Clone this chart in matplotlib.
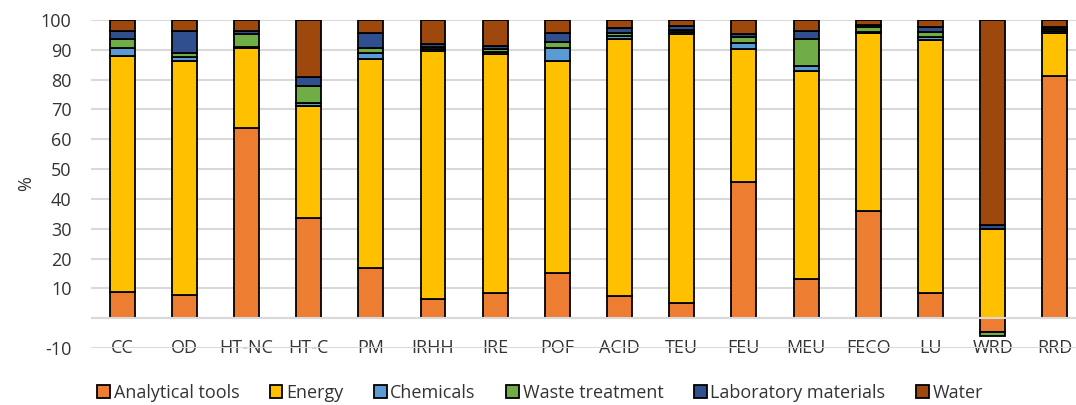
import matplotlib
matplotlib.use("Agg")
import matplotlib.pyplot as plt
import numpy as np

plt.rcParams['font.family'] = ['Open Sans', 'DejaVu Sans']

categories = ["CC", "OD", "HT-NC", "HT-C", "PM", "IRHH", "IRE", "POF",
              "ACID", "TEU", "FEU", "MEU", "FECO", "LU", "WRD", "RRD"]
analytical = [8.9, 7.8, 63.7, 33.5, 16.8, 6.4, 8.6, 15.1, 7.5, 5.0, 45.8, 13.1, 36.1, 8.4, -4.8, 81.2]
energy     = [79.1, 78.5, 27.0, 37.7, 70.0, 83.2, 79.9, 71.2, 86.0, 90.2, 44.5, 69.8, 59.4, 84.9, 29.8, 14.3]
chemicals  = [2.7, 1.2, 0.4, 1.1, 2.0, 0.7, 0.8, 4.4, 1.1, 0.7, 1.9, 1.7, 0.4, 1.1, 0.0, 0.7]
waste      = [2.8, 1.6, 4.1, 5.6, 1.9, 0.7, 0.9, 1.9, 0.9, 0.8, 2.2, 8.9, 1.9, 1.7, -1.1, 0.7]
lab        = [2.8, 7.3, 1.1, 3.1, 4.8, 0.8, 1.1, 2.9, 1.9, 1.3, 0.9, 2.8, 0.5, 1.7, 1.5, 0.9]
water      = [3.7, 3.6, 3.7, 19.0, 4.5, 8.2, 8.7, 4.5, 2.6, 2.0, 4.7, 3.7, 1.7, 2.2, 68.7, 2.2]

series_names = ["Analytical tools", "Energy", "Chemicals", "Waste treatment",
                "Laboratory materials", "Water"]
series = [analytical, energy, chemicals, waste, lab, water]
colors = ["#ED7D31", "#FFC000", "#5B9BD5", "#70AD47", "#2F4F8F", "#9E480E"]

W, H = 1076, 405
fig = plt.figure(figsize=(W / 100, H / 100), dpi=100)
left = 91 / W
bottom = 1 - 348 / H
top = 1 - 20 / H
ax = fig.add_axes([left, bottom, 1 - left, top - bottom])

x = np.arange(len(categories))
pos_base = np.zeros(len(categories))
neg_base = np.zeros(len(categories))
for name, vals, c in zip(series_names, series, colors):
    v = np.array(vals, dtype=float)
    b = np.where(v >= 0, pos_base, neg_base)
    ax.bar(x, v, width=0.4, bottom=b, color=c, edgecolor="black",
           linewidth=1.3, label=name, zorder=2)
    pos_base = pos_base + np.where(v >= 0, v, 0)
    neg_base = neg_base + np.where(v < 0, v, 0)

ax.set_ylim(-10, 100)
ax.set_xlim(-0.5, 15.34)
yt = [-10, 0, 10, 20, 30, 40, 50, 60, 70, 80, 90, 100]
ax.set_yticks(yt)
ax.set_yticklabels(["" if t == 0 else str(t) for t in yt])
ax.grid(axis="y", color="#d9d9d9", linewidth=1.5, zorder=0)
ax.axhline(0, color="#d9d9d9", linewidth=1.5, zorder=3)
for s in ax.spines.values():
    s.set_visible(False)
ax.tick_params(axis="y", length=0, pad=14, labelsize=13, labelcolor="#333333")
ax.set_xticks(x)
ax.set_xticklabels(categories)
ax.tick_params(axis="x", length=0, pad=0, labelsize=13, labelcolor="#333333")
for lbl in ax.get_xticklabels():
    lbl.set_va("center")
ax.set_ylabel("%", fontsize=13, color="#333333", labelpad=4)

handles, labels = ax.get_legend_handles_labels()
fig.legend(handles, labels, loc="center", bbox_to_anchor=(540 / W, 1 - 393 / H),
           ncol=6, frameon=False, fontsize=13, handlelength=0.7, handleheight=0.7,
           handletextpad=0.2, columnspacing=1.7, labelcolor="#333333")

fig.savefig("out.png", dpi=100)
